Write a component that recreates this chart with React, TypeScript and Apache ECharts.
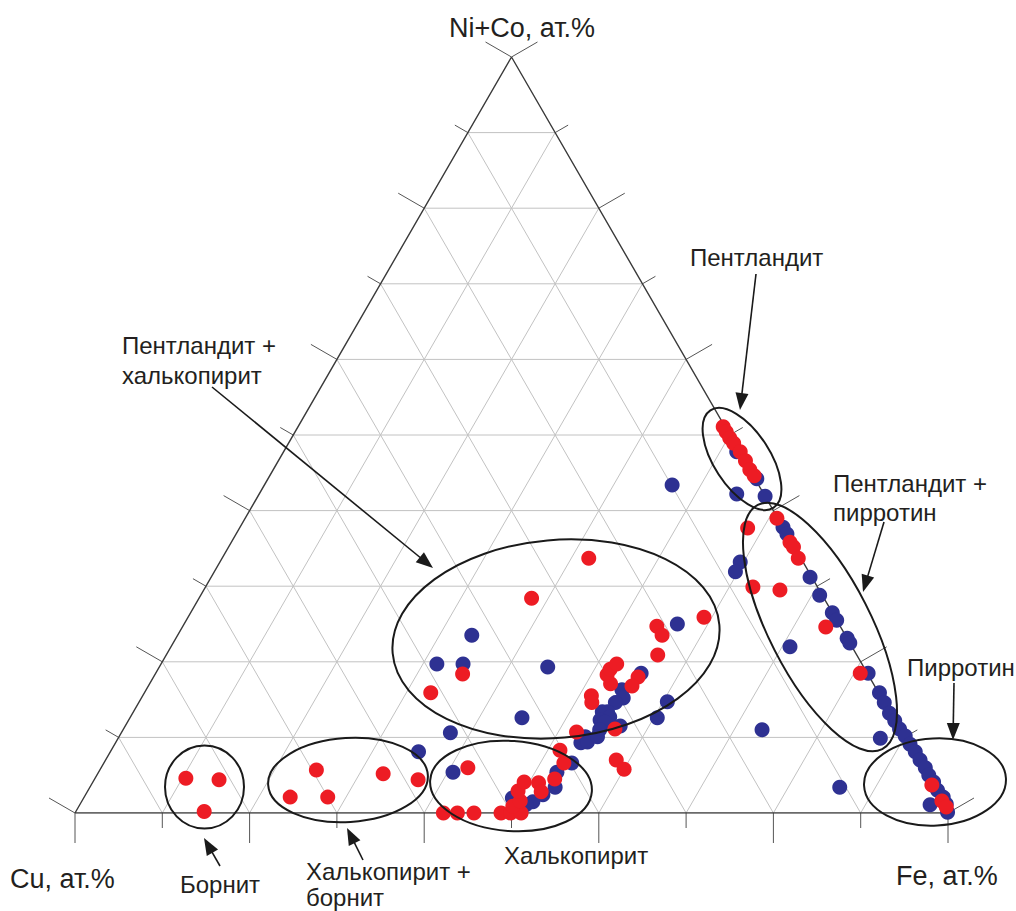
import React, { useEffect, useRef } from "react";
import * as echarts from "echarts";

// ---- Ternary axis values -------------------------------------------------
const TICK_VALUES = [0, 10, 20, 30, 40, 50, 60, 70, 80, 90, 100];
const GRID_VALUES = [10, 20, 30, 40, 50, 60, 70, 80, 90];

// ---- Data: compositions in at.% (Cu = 100 - Fe - (Ni+Co)) -----------------
const blueFe = [
  35.3, 40.6, 37.7, 44.9, 33.7, 31.6, 34.6, 44.5, 56.5, 55.6, 54.5, 55.2, 60.5, 60.4,
  54.6, 54.3, 53.7, 54.9, 54.0, 54.7, 54.6, 56.7, 53.4, 53.3, 54.0, 54.8, 53.6, 52.5,
  53.3, 52.4, 51.7, 49.1, 51.1,
  46.7, 51.9, 56.0, 54.7, 58.1, 62.2, 63.1, 68.6, 70.9, 73.5, 74.5, 76.9, 77.5, 70.9,
  81.6, 84.2, 85.4, 86.7, 87.8, 88.9, 90.0, 91.1, 92.2, 93.3, 94.4, 95.3, 96.3, 97.3,
  98.4, 99.2, 99.9, 97.4, 87.3, 73.2, 85.9, 59.6, 59.7,
];
const blueNiCo = [
  8.1, 5.4, 10.6, 12.6, 23.5, 19.7, 19.7, 19.3, 25.0, 18.5, 16.3, 15.2, 14.7, 12.6,
  14.6, 13.4, 13.4, 12.7, 12.3, 12.0, 11.0, 11.5, 10.1, 9.3, 9.4, 10.1, 6.6, 5.4,
  3.4, 2.4, 1.5, 2.0, 1.1,
  43.4, 47.8, 44.2, 42.2, 41.9, 37.8, 36.9, 31.2, 28.8, 26.5, 25.5, 23.1, 22.5, 22.0,
  18.5, 15.9, 14.6, 13.2, 12.2, 11.1, 10.2, 9.1, 8.1, 7.0, 6.0, 5.0, 4.1, 3.0,
  2.1, 1.2, 0.1, 1.1, 9.9, 11.0, 3.4, 33.2, 31.9,
];
const redFe = [
  10.4, 14.3, 14.7, 24.8, 23.6, 27.9, 32.7, 37.1, 42.0, 42.2, 43.8, 45.7, 48.8, 49.9,
  51.1, 49.7, 50.2, 49.3, 49.4, 51.1, 52.0, 52.7, 52.7, 51.4, 52.1, 56.3, 58.5, 60.0,
  51.4, 51.9, 52.8, 51.8, 51.8, 52.2, 55.5, 55.4, 56.3, 54.3, 55.5, 59.1, 42.0, 38.1,
  35.2, 32.8,
  48.7, 49.4, 50.2, 51.0, 52.3, 53.5, 54.6, 55.5, 60.9, 64.0, 64.7, 66.0, 58.2, 62.7,
  66.0, 73.7, 80.7, 96.3, 98.5, 99.4,
];
const redNiCo = [
  4.6, 4.4, 0.2, 5.7, 2.1, 2.1, 5.2, 4.4, 6.0, 0, 0, 0, 0, 0,
  0, 0.9, 1.6, 2.9, 4.1, 4.0, 2.8, 4.5, 6.6, 8.3, 10.7, 11.1, 7.0, 5.8,
  15.5, 14.6, 17.1, 18.3, 19.0, 19.7, 18.0, 16.8, 20.9, 24.7, 23.5, 25.9, 33.7, 28.4,
  18.4, 15.9,
  51.1, 50.4, 49.6, 48.9, 47.8, 46.6, 45.4, 44.6, 39.0, 35.8, 35.2, 33.7, 37.7, 29.9,
  29.5, 24.6, 18.5, 3.7, 1.6, 0.8,
];

const AXIS_TOP = "Ni+Co, ат.%";
const AXIS_LEFT = "Cu, ат.%";
const AXIS_RIGHT = "Fe, ат.%";

const FONT = '"Liberation Sans", Arial, Helvetica, sans-serif';
const BLUE = "#2e3192";
const RED = "#ed1c24";

// ternary (Fe, Ni+Co) -> cartesian plotting units
const toXY = (fe: number, ni: number) => [fe + ni / 2, ni];

// annotation geometry (pixels)
const ELLIPSES = [
  { cx: 204.5, cy: 787, rx: 39.5, ry: 41.5, rot: 0 },
  { cx: 348, cy: 780, rx: 80, ry: 42, rot: 3.5 },
  { cx: 511, cy: 786, rx: 81, ry: 45, rot: -4 },
  { cx: 556, cy: 639, rx: 164, ry: 99, rot: 5 },
  { cx: 742, cy: 459, rx: 58, ry: 28, rot: -57 },
  { cx: 820, cy: 627, rx: 137, ry: 51, rot: -63 },
  { cx: 935, cy: 782, rx: 71, ry: 43.5, rot: 3 },
];
const ARROWS = [
  [756, 274, 740, 410],
  [212, 387, 433, 568],
  [884, 522, 863, 592],
  [954, 683, 953, 740],
  [220, 866, 204, 838],
  [363, 860, 347, 828],
];
const LABELS: [string, number, number][] = [
  ["Пентландит", 690, 257],
  ["Пентландит +", 122, 345],
  ["халькопирит", 122, 375],
  ["Пентландит +", 833, 483],
  ["пирротин", 833, 512],
  ["Пирротин", 907, 667],
  ["Борнит", 180, 884],
  ["Халькопирит +", 306, 871],
  ["борнит", 306, 897],
  ["Халькопирит", 504, 855],
];

function gridSegment(fam: number, k: number) {
  if (fam === 0) return [[k / 2, k], [100 - k / 2, k]];
  if (fam === 1) return [[k, 0], [k + (100 - k) / 2, 100 - k]];
  return [[100 - k, 0], [(100 - k) / 2, 100 - k]];
}

export default function App() {
  const ref = useRef<HTMLDivElement>(null);
  useEffect(() => {
    const chart = echarts.init(ref.current!, null, { renderer: "svg" });

    const gridData: number[][] = [];
    for (const fam of [0, 1, 2]) for (const k of GRID_VALUES) gridData.push([fam, k]);
    const tickData: number[][] = [];
    for (const e of [0, 1, 2]) for (const k of TICK_VALUES) tickData.push([e, k]);

    const blueData = blueFe.map((fe, i) => toXY(fe, blueNiCo[i]));
    const redData = redFe.map((fe, i) => toXY(fe, redNiCo[i]));

    const graphic: any[] = [];
    ELLIPSES.forEach((e) => {
      graphic.push({
        type: "ellipse",
        x: e.cx,
        y: e.cy,
        rotation: (e.rot * Math.PI) / 180,
        shape: { cx: 0, cy: 0, rx: e.rx, ry: e.ry },
        style: { fill: "none", stroke: "#1a1a1a", lineWidth: 2 },
        z: 100,
        silent: true,
      });
    });
    ARROWS.forEach(([x1, y1, x2, y2]) => {
      const dx = x2 - x1, dy = y2 - y1;
      const len = Math.hypot(dx, dy);
      const ux = dx / len, uy = dy / len;
      const hl = 17, hw = 6.5;
      const bx = x2 - ux * hl, by = y2 - uy * hl;
      graphic.push({
        type: "line",
        shape: { x1, y1, x2: bx + ux * 2, y2: by + uy * 2 },
        style: { stroke: "#1a1a1a", lineWidth: 1.6 },
        z: 100,
        silent: true,
      });
      graphic.push({
        type: "polygon",
        shape: {
          points: [
            [x2, y2],
            [bx - uy * hw, by + ux * hw],
            [bx + uy * hw, by - ux * hw],
          ],
        },
        style: { fill: "#1a1a1a" },
        z: 100,
        silent: true,
      });
    });
    LABELS.forEach(([t, x, y]) => {
      graphic.push({
        type: "text",
        x,
        y,
        style: {
          text: t,
          fontSize: 24,
          fontFamily: FONT,
          fill: "#231f20",
          textAlign: "left",
          textVerticalAlign: "middle",
        },
        z: 100,
        silent: true,
      });
    });
    const axisTexts: [string, number, number, string][] = [
      [AXIS_TOP, 522, 28, "center"],
      [AXIS_LEFT, 10, 879, "left"],
      [AXIS_RIGHT, 896, 876, "left"],
    ];
    axisTexts.forEach(([t, x, y, a]) => {
      graphic.push({
        type: "text",
        x,
        y,
        style: {
          text: t,
          fontSize: 27,
          fontFamily: FONT,
          fill: "#231f20",
          textAlign: a,
          textVerticalAlign: "middle",
        },
        z: 100,
        silent: true,
      });
    });

    const option: any = {
      animation: false,
      backgroundColor: "#ffffff",
      grid: { left: 75, top: 57, width: 873, height: 756, containLabel: false },
      xAxis: { type: "value", min: 0, max: 100, show: false },
      yAxis: { type: "value", min: 0, max: 100, show: false },
      graphic,
      series: [
        {
          type: "custom",
          name: "grid",
          silent: true,
          clip: false,
          z: 1,
          data: gridData,
          renderItem: (_p: any, api: any) => {
            const seg = gridSegment(api.value(0), api.value(1));
            const a = api.coord(seg[0]);
            const b = api.coord(seg[1]);
            return {
              type: "line",
              shape: { x1: a[0], y1: a[1], x2: b[0], y2: b[1] },
              style: { stroke: "#c2c2c2", lineWidth: 1 },
            };
          },
        },
        {
          type: "custom",
          name: "ticks",
          silent: true,
          clip: false,
          z: 2,
          data: tickData,
          renderItem: (_p: any, api: any) => {
            const e = api.value(0), k = api.value(1);
            let base: number[], dir: number[];
            if (e === 0) { base = api.coord([k, 0]); dir = [0, 1]; }
            else if (e === 1) { base = api.coord([k / 2, k]); dir = [-0.866, -0.5]; }
            else { base = api.coord([100 - k / 2, k]); dir = [0.866, -0.5]; }
            const len = k % 20 === 0 ? 30 : 15;
            return {
              type: "line",
              shape: { x1: base[0], y1: base[1], x2: base[0] + dir[0] * len, y2: base[1] + dir[1] * len },
              style: { stroke: "#555555", lineWidth: 1 },
            };
          },
        },
        {
          type: "line",
          name: "triangle",
          silent: true,
          symbol: "none",
          z: 2,
          lineStyle: { color: "#3a3a3a", width: 1.4 },
          data: [toXY(0, 0), toXY(100, 0), toXY(0, 100), toXY(0, 0)],
        },
        {
          type: "scatter",
          name: "blue",
          silent: true,
          clip: false,
          z: 3,
          symbolSize: 15,
          itemStyle: { color: BLUE, opacity: 1 },
          data: blueData,
        },
        {
          type: "scatter",
          name: "red",
          silent: true,
          clip: false,
          z: 4,
          symbolSize: 15,
          itemStyle: { color: RED, opacity: 1 },
          data: redData,
        },
      ],
    };
    chart.setOption(option);
    return () => chart.dispose();
  }, []);
  return (
    <div
      ref={ref}
      style={{ position: "fixed", left: 0, top: 0, width: 1016, height: 911, background: "#fff" }}
    />
  );
}
